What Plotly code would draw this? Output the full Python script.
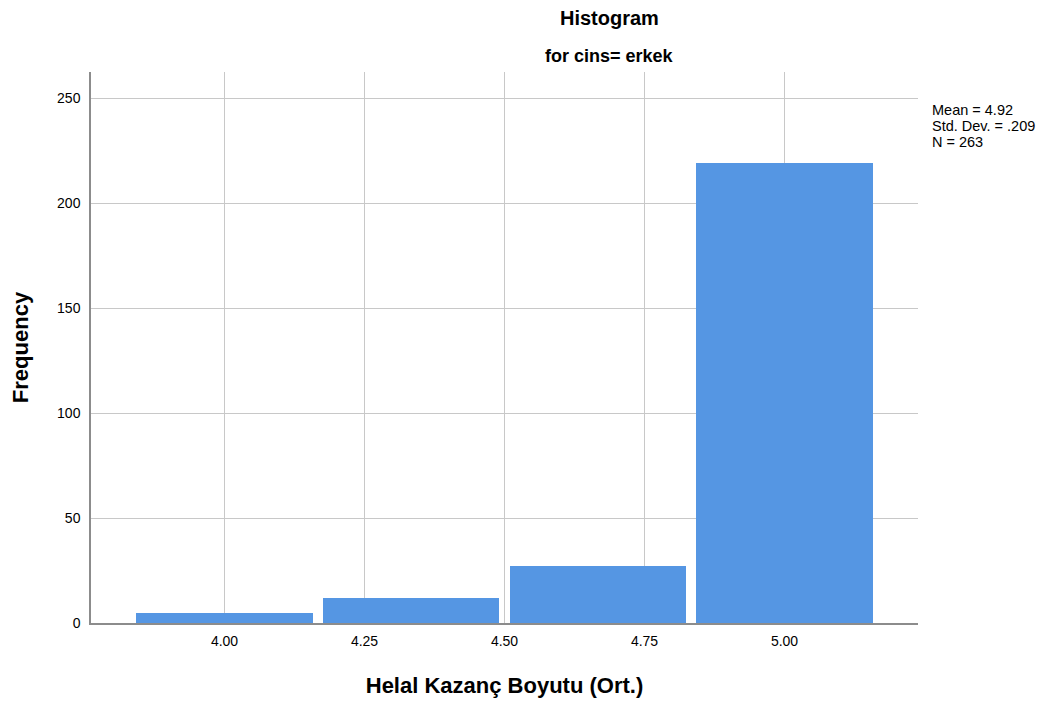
import plotly.graph_objects as go

# bin centres (width 1/3) and frequencies
bin_centres = [4.0, 4.3333, 4.6667, 5.0]
frequencies = [5, 12, 27, 219]
x_ticks = [4.00, 4.25, 4.50, 4.75, 5.00]
x_tick_labels = ["4.00", "4.25", "4.50", "4.75", "5.00"]
y_ticks = [0, 50, 100, 150, 200, 250]
stats_lines = ["Mean = 4.92", "Std. Dev. = .209", "N = 263"]

font_family = "Liberation Sans, Arial, sans-serif"

fig = go.Figure()
fig.add_trace(go.Bar(
    x=bin_centres, y=frequencies, width=0.315,
    marker_color="#5596E3", marker_line_width=0,
    showlegend=False,
))

fig.update_xaxes(
    range=[3.7616, 5.2384], tickvals=x_ticks, ticktext=x_tick_labels,
    showgrid=True, gridcolor="#c8c8c8", gridwidth=1,
    showline=True, linecolor="#8c8c8c", linewidth=1.5,
    ticks="", zeroline=False, ticklabelstandoff=4,
    tickfont=dict(family=font_family, size=14, color="#000"),
    title=dict(text="<b>Helal Kazanç Boyutu (Ort.)</b>", standoff=30,
               font=dict(family=font_family, size=22, color="#000")),
)
fig.update_yaxes(
    range=[0, 262.4], tickvals=y_ticks,
    showgrid=True, gridcolor="#c8c8c8", gridwidth=1,
    showline=True, linecolor="#8c8c8c", linewidth=1.5,
    ticks="", zeroline=False, ticklabelstandoff=6,
    tickfont=dict(family=font_family, size=14, color="#000"),
    title=dict(text="<b>Frequency</b>", standoff=22,
               font=dict(family=font_family, size=22, color="#000")),
)

fig.add_annotation(text="<b>Histogram</b>", xref="paper", yref="paper",
                   x=0.6265, y=1.0, yshift=54, yanchor="middle", showarrow=False,
                   font=dict(family=font_family, size=20, color="#000"))
fig.add_annotation(text="<b>for cins= erkek</b>", xref="paper", yref="paper",
                   x=0.6265, y=1.0, yshift=16, yanchor="middle", showarrow=False,
                   font=dict(family=font_family, size=18, color="#000"))
for i, line in enumerate(stats_lines):
    fig.add_annotation(text=line, xref="paper", yref="paper",
                       x=1.0, y=1.0, xshift=12, yshift=-38 - 16 * i, showarrow=False,
                       xanchor="left", yanchor="middle", align="left",
                       font=dict(family=font_family, size=14.5, color="#000"))

fig.update_layout(
    width=1054, height=703,
    margin=dict(l=80, r=144, t=64, b=88),
    plot_bgcolor="white", paper_bgcolor="white",
    bargap=0,
)

fig.write_html("out.html")
